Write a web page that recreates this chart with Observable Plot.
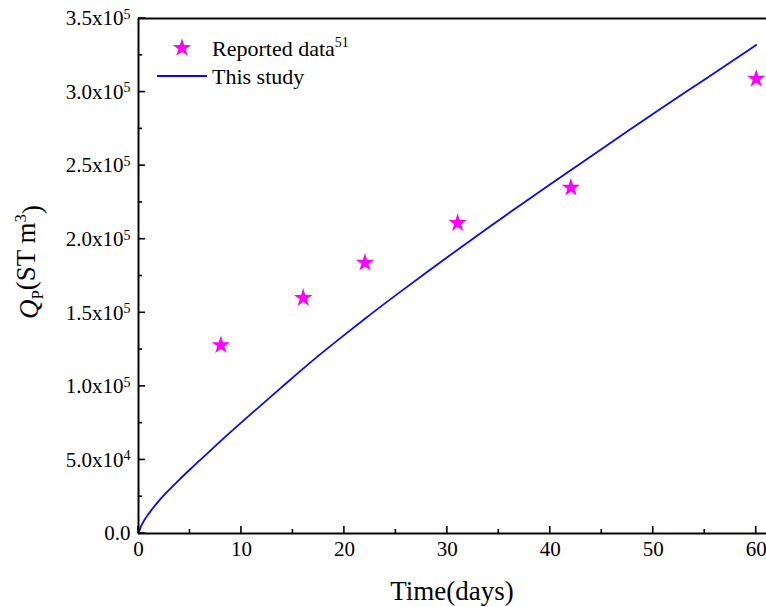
<!DOCTYPE html>
<html>
<head>
<meta charset="utf-8">
<script src="https://cdn.jsdelivr.net/npm/d3@7"></script>
<script src="https://cdn.jsdelivr.net/npm/@observablehq/plot@0.6"></script>
<style>
  html, body { margin: 0; padding: 0; background: #fff; }
  #chart svg { display: block; }
</style>
</head>
<body>
<div id="chart"></div>
<script>
// Reported data (stars)
const reportedDays = [8, 16, 22, 31, 42, 60];
const reportedQp = [128000, 160000, 184000, 211000, 235000, 309000];

// This study (model curve)
const studyDays = [0, 0.25, 0.5, 1, 2, 3, 4, 5, 6, 8, 10, 12, 14, 17, 20, 22, 25, 28, 30, 34, 37, 40, 44, 47, 50, 55, 60];
const studyQp = [0, 5000, 8300, 13500, 22300, 29800, 36800, 43500, 50000, 63000, 75500, 87800, 100000, 118000, 135000, 146000, 162000, 177600, 187800, 208000, 222800, 237400, 256600, 271000, 285300, 308600, 332000];

// Axis ticks
const xMajorTicks = [0, 10, 20, 30, 40, 50, 60];
const xMinorTicks = [5, 15, 25, 35, 45, 55];
const yMajorTicks = [0, 50000, 100000, 150000, 200000, 250000, 300000, 350000];
const yMinorTicks = [25000, 75000, 125000, 175000, 225000, 275000, 325000];

const reported = reportedDays.map((d, i) => ({t: d, q: reportedQp[i]}));
const study = studyDays.map((d, i) => ({t: d, q: studyQp[i]}));

const W = 766, H = 607;
const ML = 138, MR = 0, MT = 18, MB = 74;
const FONT = "'Liberation Serif', 'Times New Roman', serif";
const BLUE = "#0a0ae6";
const MAGENTA = "#ff00ff";

function fmtY(v) {
  if (v === 0) return "0.0";
  const e = Math.floor(Math.log10(v));
  const m = v / Math.pow(10, e);
  return m.toFixed(1) + "x10^" + e;
}

const chart = Plot.plot({
  width: W,
  height: H,
  marginLeft: ML,
  marginRight: MR,
  marginTop: MT,
  marginBottom: MB,
  style: {fontFamily: FONT, fontSize: "21px", color: "#000", background: "#fff", overflow: "visible"},
  x: {domain: [0, 61]},
  y: {domain: [0, 350000]},
  marks: [
    Plot.axisX({ticks: xMajorTicks, tickSize: 0, tickPadding: 8, tickFormat: d => String(d), label: null, fontSize: 21}),
    Plot.axisY({ticks: yMajorTicks, tickSize: 0, tickPadding: 8, tickFormat: fmtY, label: null, fontSize: 21}),
    Plot.line(study, {x: "t", y: "q", stroke: BLUE, strokeWidth: 1.8, curve: "monotone-x"}),
    Plot.dot(reported, {x: "t", y: "q", symbol: "star", r: 5.8, fill: MAGENTA, stroke: "none"}),
    Plot.ruleX([0], {stroke: "#000", strokeWidth: 2}),
    Plot.ruleY([0], {stroke: "#000", strokeWidth: 2}),
    Plot.ruleY([350000], {stroke: "#000", strokeWidth: 2})
  ]
});

document.getElementById("chart").appendChild(chart);
const svg = d3.select(chart);
const sx = chart.scale("x"), sy = chart.scale("y");
const x0 = sx.apply(0), y0 = sy.apply(0);

// Inward tick marks (positioned through Plot's scales)
const tk = svg.append("g").attr("stroke", "#000").attr("stroke-width", 1.6);
function xTicks(vals, len) {
  vals.forEach(v => tk.append("line")
    .attr("x1", sx.apply(v)).attr("x2", sx.apply(v))
    .attr("y1", y0).attr("y2", y0 - len));
}
function yTicks(vals, len) {
  vals.forEach(v => tk.append("line")
    .attr("y1", sy.apply(v)).attr("y2", sy.apply(v))
    .attr("x1", x0).attr("x2", x0 + len));
}
xTicks(xMajorTicks, 7); xTicks(xMinorTicks, 4);
yTicks(yMajorTicks, 7); yTicks(yMinorTicks, 4);

// Superscript exponents in y tick labels
svg.selectAll('g[aria-label="y-axis tick label"] text').each(function() {
  const t = d3.select(this);
  const s = t.text();
  const idx = s.indexOf("^");
  if (idx < 0) return;
  const base = s.slice(0, idx), exp = s.slice(idx + 1);
  t.text(null);
  t.append("tspan").text(base);
  t.append("tspan").attr("dy", "-0.45em").attr("font-size", "14px").text(exp);
});

// X axis title
svg.append("text")
  .attr("x", (ML + W - MR) / 2)
  .attr("y", 600)
  .attr("text-anchor", "middle")
  .attr("font-family", FONT)
  .attr("font-size", "27px")
  .attr("fill", "#000")
  .text("Time(days)");

// Y axis title: Q_P(ST m^3)
const yt = svg.append("text")
  .attr("transform", `translate(38, 262) rotate(-90)`)
  .attr("text-anchor", "middle")
  .attr("font-family", FONT)
  .attr("font-size", "27px")
  .attr("fill", "#000");
yt.append("tspan").attr("font-style", "italic").text("Q");
yt.append("tspan").attr("font-size", "17px").attr("dy", "0.3em").text("P");
yt.append("tspan").attr("dy", "-0.3em").text("(ST m");
yt.append("tspan").attr("font-size", "17px").attr("dy", "-0.55em").text("3");
yt.append("tspan").attr("dy", "0.55em").text(")");

// Legend
const lg = svg.append("g").attr("font-family", FONT).attr("font-size", "22px").attr("fill", "#000").attr("text-anchor", "start");
lg.append("path")
  .attr("d", d3.symbol(d3.symbolStar, Math.PI * 5.8 * 5.8)())
  .attr("transform", "translate(182,48)")
  .attr("fill", MAGENTA);
const lt = lg.append("text").attr("x", 212).attr("y", 56).attr("text-anchor", "start");
lt.append("tspan").text("Reported data");
lt.append("tspan").attr("font-size", "14px").attr("dy", "-9").text("51");
lg.append("line")
  .attr("x1", 157).attr("x2", 207).attr("y1", 76).attr("y2", 76)
  .attr("stroke", BLUE).attr("stroke-width", 2);
lg.append("text").attr("x", 212).attr("y", 84).attr("text-anchor", "start").text("This study");
</script>
</body>
</html>
